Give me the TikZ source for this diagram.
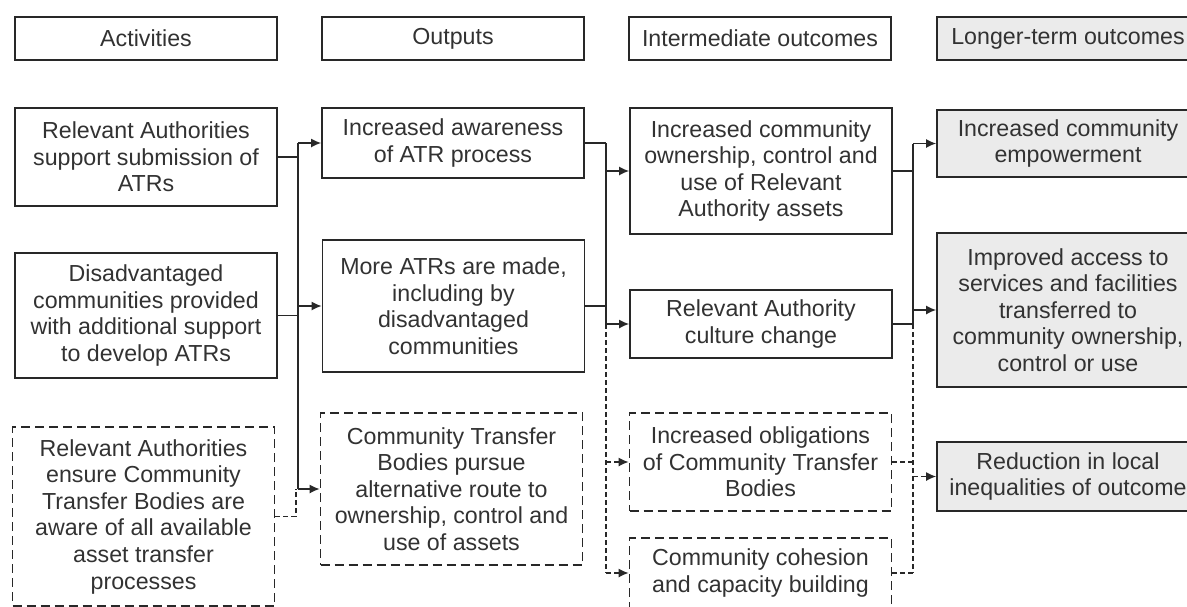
\documentclass[tikz,border=0pt]{standalone}
\usepackage{fontspec}
\setmainfont{Liberation Sans}
\usetikzlibrary{arrows.meta}

\definecolor{boxline}{RGB}{40,40,40}
\definecolor{boxtext}{RGB}{50,50,50}
\definecolor{ltfill}{RGB}{235,235,235}

\begin{document}
\begin{tikzpicture}[x=0.5pt,y=-0.5pt,
	box/.style={draw=boxline,line width=0.8pt,text=boxtext,align=center,minimum width=131pt,inner sep=0pt,
		font=\fontsize{11.6pt}{13.3pt}\selectfont},
	dbox/.style={box,dash pattern=on 4.5pt off 2.5pt},
	gbox/.style={box,fill=ltfill},
	link/.style={draw=boxline,line width=0.8pt},
	dlink/.style={link,dash pattern=on 2.5pt off 1.5pt},
	>={Latex[length=5pt,width=4.5pt]}]
	\useasboundingbox (0,0) rectangle (1187,606);

	\node[box,minimum height=21.5pt] (hact) at (146,38.5) {Activities};
	\node[box,minimum height=21.5pt] (hout) at (453,38.5) {Outputs};
	\node[box,minimum height=21.5pt] (hint) at (760,38.5) {Intermediate outcomes};
	\node[gbox,minimum height=21.5pt] (hlong) at (1068,38.5) {Longer-term outcomes};

	\node[box,minimum height=49pt] (act1) at (146,157) {Relevant Authorities\\support submission of\\ATRs};
	\node[box,minimum height=62.5pt] (act2) at (146,315.5) {Disadvantaged\\communities provided\\with additional support\\to develop ATRs};
	\node[dbox,minimum height=89.5pt] (act3) at (143.5,516.5) {Relevant Authorities\\ensure Community\\Transfer Bodies are\\aware of all available\\asset transfer\\processes};

	\node[box,minimum height=35pt] (out1) at (453,143) {Increased awareness\\of ATR process};
	\node[box,minimum height=66pt] (out2) at (453.5,306) {More ATRs are made,\\including by\\disadvantaged\\communities};
	\node[dbox,minimum height=76pt] (out3) at (451.5,489) {Community Transfer\\Bodies pursue\\alternative route to\\ownership, control and\\use of assets};

	\node[box,minimum height=63pt] (int1) at (761,171) {Increased community\\ownership, control and\\use of Relevant\\Authority assets};
	\node[box,minimum height=34pt] (int2) at (761,324) {Relevant Authority\\culture change};
	\node[dbox,minimum height=49pt] (int3) at (760.5,462) {Increased obligations\\of Community Transfer\\Bodies};
	\node[dbox,minimum height=35pt] (int4) at (760.5,573) {Community cohesion\\and capacity building};

	\node[gbox,minimum height=33.5pt] (long1) at (1068,143.5) {Increased community\\empowerment};
	\node[gbox,minimum height=77pt] (long2) at (1068,310) {Improved access to\\services and facilities\\transferred to\\community ownership,\\control or use};
	\node[gbox,minimum height=34.5pt] (long3) at (1068,476.5) {Reduction in local\\inequalities of outcome};

	\coordinate (bus1) at (298,0);
	\coordinate (bus2) at (606,0);
	\coordinate (bus3) at (913,0);

	\draw[link] (act1.east) -- (act1.east -| bus1);
	\draw[link] (act2.east) -- (act2.east -| bus1);
	\draw[link] (out1.west -| bus1) -- (out3.west -| bus1);
	\draw[link,->] (out1.west -| bus1) -- (out1.west);
	\draw[link,->] (out2.west -| bus1) -- (out2.west);
	\draw[link,->] (out3.west -| bus1) -- (out3.west);
	\draw[dlink] (act3.east) -| ([xshift=-1pt]out3.west -| bus1);

	\draw[link] (out1.east) -- (out1.east -| bus2);
	\draw[link] (out2.east) -- (out2.east -| bus2);
	\draw[link] (out1.east -| bus2) -- (int2.west -| bus2);
	\draw[link,->] (int1.west -| bus2) -- (int1.west);
	\draw[link,->] (int2.west -| bus2) -- (int2.west);
	\draw[dlink] (int2.west -| bus2) -- (int4.west -| bus2);
	\draw[dlink,->] (int3.west -| bus2) -- (int3.west);
	\draw[dlink,->] (int4.west -| bus2) -- (int4.west);

	\draw[link] (int1.east) -- (int1.east -| bus3);
	\draw[link] (int2.east) -- (int2.east -| bus3);
	\draw[link] (long1.west -| bus3) -- (int2.east -| bus3);
	\draw[link,->] (long1.west -| bus3) -- (long1.west);
	\draw[link,->] (long2.west -| bus3) -- (long2.west);
	\draw[dlink] (int3.east) -- (int3.east -| bus3);
	\draw[dlink] (int4.east) -- (int4.east -| bus3);
	\draw[dlink] (int2.east -| bus3) -- (int4.east -| bus3);
	\draw[dlink,->] (long3.west -| bus3) -- (long3.west);
\end{tikzpicture}
\end{document}
